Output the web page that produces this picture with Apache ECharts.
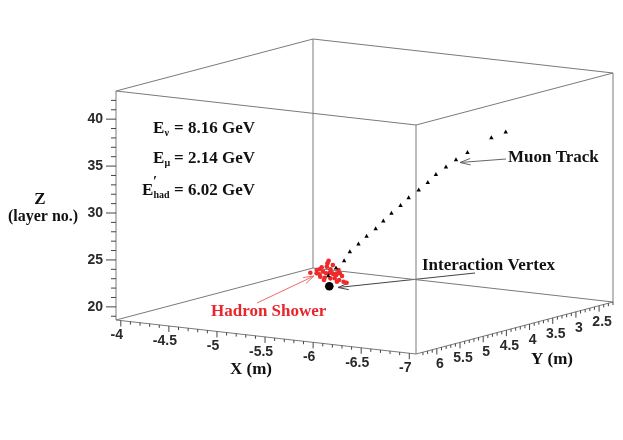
<!DOCTYPE html>
<html>
<head>
<meta charset="utf-8">
<script src="https://cdn.jsdelivr.net/npm/echarts@6/dist/echarts.min.js"></script>
<style>
  html, body { margin: 0; padding: 0; background: #fff; }
  #chart { width: 623px; height: 440px; }
</style>
</head>
<body>
<div id="chart"></div>
<script>
// axis ranges (value at the front-left corner first)
const xRange = [-3.95, -7.07];
const yRange = [6.45, 2.2];
const zRange = [18.6, 43.0];

const xTickValues = [-4, -4.5, -5, -5.5, -6, -6.5, -7];
const xTickLabels = ['-4', '-4.5', '-5', '-5.5', '-6', '-6.5', '-7'];
const yTickValues = [6, 5.5, 5, 4.5, 4, 3.5, 3, 2.5];
const yTickLabels = ['6', '5.5', '5', '4.5', '4', '3.5', '3', '2.5'];
const zTickValues = [20, 25, 30, 35, 40];
const zTickLabels = ['20', '25', '30', '35', '40'];

// muon track hits
const trackX = [-5.44, -5.51, -5.58, -5.63, -5.71, -5.78, -5.86, -5.93, -6.00, -6.08,
                -6.15, -6.24, -6.32, -6.39, -6.48, -6.57, -6.67, -6.88, -7.01];
const trackY = [4.96, 4.94, 4.91, 4.89, 4.87, 4.84, 4.81, 4.79, 4.76, 4.73,
                4.70, 4.67, 4.64, 4.61, 4.58, 4.55, 4.51, 4.43, 4.39];
const trackZ = [23.1, 24.0, 24.8, 25.8, 26.7, 27.55, 28.4, 29.3, 30.15, 31.05,
                31.9, 32.8, 33.65, 34.55, 35.4, 36.25, 37.1, 38.8, 39.5];

// hadron shower hits
const showerX = [-5.52, -5.67, -5.58, -5.39, -5.41, -5.51, -5.43, -5.43, -5.59, -5.52,
                 -5.20, -5.26, -5.31, -5.33, -5.34, -5.40, -5.45, -5.43, -5.52, -5.38,
                 -5.44, -5.50, -5.53, -5.61, -5.43, -5.48, -5.38, -5.24, -5.36, -5.41];
const showerY = [5.12, 5.34, 5.27, 5.00, 4.93, 5.06, 5.19, 5.13, 5.05, 5.24,
                 4.85, 4.84, 4.88, 4.78, 4.72, 4.77, 4.81, 4.69, 4.83, 5.01,
                 5.04, 5.04, 5.01, 5.08, 4.61, 4.65, 4.65, 4.64, 4.72, 4.72];
const showerZ = [25, 25, 25, 24, 24, 24, 24, 24, 24, 24,
                 23, 23, 23, 23, 23, 23, 23, 23, 23, 23,
                 23, 23, 23, 23, 22, 22, 22, 22, 23, 23];

// interaction vertex
const vertex = [-5.45, 4.96, 22];

// projection of the box on the page
const ORIGIN = [116, 320];
const EX = [300, 34];
const EY = [197, -52];
const HZ = 229;

function proj(x, y, z) {
  const u = (x - xRange[0]) / (xRange[1] - xRange[0]);
  const v = (y - yRange[0]) / (yRange[1] - yRange[0]);
  const w = (z - zRange[0]) / (zRange[1] - zRange[0]);
  return [ORIGIN[0] + u * EX[0] + v * EY[0], ORIGIN[1] + u * EX[1] + v * EY[1] - w * HZ];
}

// box edges: every pair of corners that differ in one coordinate
const corners = [];
xRange.forEach(x => yRange.forEach(y => zRange.forEach(z => corners.push([x, y, z]))));
const boxEdges = [];
for (let i = 0; i < corners.length; i++) {
  for (let j = i + 1; j < corners.length; j++) {
    let diff = 0;
    for (let k = 0; k < 3; k++) if (corners[i][k] !== corners[j][k]) diff++;
    if (diff === 1) boxEdges.push(corners[i].concat(corners[j]));
  }
}

// ticks: [axis, value, major]
const ticks = [];
for (let i = 0; i <= 30; i++) ticks.push([0, -4 - i * 0.1, i % 5 === 0 ? 1 : 0]);
for (let i = 0; i <= 41; i++) ticks.push([1, 6.3 - i * 0.1, (i + 2) % 5 === 0 ? 1 : 0]);
for (let z = 19; z <= 42; z++) ticks.push([2, z, z % 5 === 0 ? 1 : 0]);

function tickBase(axis, val) {
  if (axis === 0) return proj(val, yRange[0], zRange[0]);
  if (axis === 1) return proj(xRange[1], val, zRange[0]);
  return proj(xRange[0], yRange[0], val);
}

const tickLabelData = [];
xTickValues.forEach((v, i) => tickLabelData.push([0, v, i]));
yTickValues.forEach((v, i) => tickLabelData.push([1, v, i]));
zTickValues.forEach((v, i) => tickLabelData.push([2, v, i]));
const labelSets = [xTickLabels, yTickLabels, zTickLabels];

const trackData = trackX.map((x, i) => [x, trackY[i], trackZ[i]]);
const showerData = showerX.map((x, i) => [x, showerY[i], showerZ[i]]);

const SERIF = '"Liberation Serif", "DejaVu Serif", serif';
const SANS = '"Liberation Sans", Arial, sans-serif';

function arrow(x1, y1, x2, y2, color) {
  const a = Math.atan2(y2 - y1, x2 - x1);
  const len = 11, spread = 0.3;
  return [
    { type: 'line', shape: { x1: x1, y1: y1, x2: x2, y2: y2 }, style: { stroke: color, lineWidth: 1 } },
    { type: 'polyline', shape: { points: [
        [x2 - len * Math.cos(a - spread), y2 - len * Math.sin(a - spread)],
        [x2, y2],
        [x2 - len * Math.cos(a + spread), y2 - len * Math.sin(a + spread)]] },
      style: { stroke: color, lineWidth: 1, fill: null } }
  ];
}

function energyLine(y, sub, value, withPrime, eX) {
  const items = [
    { type: 'text', x: eX, y: y, style: { text: 'E', font: 'bold 17px ' + SERIF, fill: '#111', verticalAlign: 'middle' } },
    { type: 'text', x: eX + 11.5, y: y + 5, style: { text: sub, font: 'bold 10px ' + SERIF, fill: '#111', verticalAlign: 'middle' } },
    { type: 'text', x: 255, y: y, style: { text: value, font: 'bold 17px ' + SERIF, fill: '#111', align: 'right', verticalAlign: 'middle' } }
  ];
  if (withPrime) {
    items.push({ type: 'text', x: eX + 11, y: y - 8, style: { text: '\u2032', font: 'bold 15px ' + SERIF, fill: '#111', verticalAlign: 'middle' } });
  }
  return items;
}

const chart = echarts.init(document.getElementById('chart'));

const option = {
  backgroundColor: '#fff',
  animation: false,
  series: [
    {
      type: 'custom',
      coordinateSystem: 'none',
      silent: true,
      data: boxEdges,
      renderItem: function (params, api) {
        const p0 = proj(api.value(0), api.value(1), api.value(2));
        const p1 = proj(api.value(3), api.value(4), api.value(5));
        return { type: 'line', shape: { x1: p0[0], y1: p0[1], x2: p1[0], y2: p1[1] },
                 style: { stroke: '#7a7a7a', lineWidth: 1 } };
      }
    },
    {
      type: 'custom',
      coordinateSystem: 'none',
      silent: true,
      data: ticks,
      renderItem: function (params, api) {
        const axis = api.value(0), major = api.value(2);
        const p = tickBase(axis, api.value(1));
        if (axis === 2) {
          const l = major ? 10 : 5;
          return { type: 'line', shape: { x1: p[0] - l, y1: p[1], x2: p[0], y2: p[1] },
                   style: { stroke: '#444', lineWidth: 1 } };
        }
        const l = major ? 6 : 3;
        return { type: 'line', shape: { x1: p[0], y1: p[1], x2: p[0], y2: p[1] + l },
                 style: { stroke: '#444', lineWidth: 1 } };
      }
    },
    {
      type: 'custom',
      coordinateSystem: 'none',
      silent: true,
      data: tickLabelData,
      renderItem: function (params, api) {
        const axis = api.value(0);
        const p = tickBase(axis, api.value(1));
        const text = labelSets[axis][api.value(2)];
        let x = p[0], y = p[1], align = 'center';
        if (axis === 0) { x -= 4; y += 15; }
        else if (axis === 1) { x += 3; y += 16; }
        else { x -= 13; align = 'right'; }
        return { type: 'text', x: x, y: y,
                 style: { text: text, font: 'bold 14px ' + SANS, fill: '#2a2a2a', align: align, verticalAlign: 'middle' } };
      }
    },
    {
      type: 'custom',
      coordinateSystem: 'none',
      silent: true,
      data: showerData,
      renderItem: function (params, api) {
        const p = proj(api.value(0), api.value(1), api.value(2));
        return { type: 'circle', shape: { cx: p[0], cy: p[1], r: 2.3 }, style: { fill: '#ee2a2a' } };
      }
    },
    {
      type: 'custom',
      coordinateSystem: 'none',
      silent: true,
      data: trackData,
      renderItem: function (params, api) {
        const p = proj(api.value(0), api.value(1), api.value(2));
        return { type: 'polygon', shape: { points: [[p[0], p[1] - 2.4], [p[0] - 2.2, p[1] + 1.6], [p[0] + 2.2, p[1] + 1.6]] },
                 style: { fill: '#000' } };
      }
    },
    {
      type: 'custom',
      coordinateSystem: 'none',
      silent: true,
      data: [vertex],
      renderItem: function (params, api) {
        const p = proj(api.value(0), api.value(1), api.value(2));
        return { type: 'circle', shape: { cx: p[0], cy: p[1], r: 4.3 }, style: { fill: '#000' } };
      }
    }
  ],
  graphic: [
    ...energyLine(128.5, '\u03bd', '= 8.16 GeV', false, 153),
    ...energyLine(158.5, '\u03bc', '= 2.14 GeV', false, 153),
    ...energyLine(190.5, 'had', '= 6.02 GeV', true, 142),
    { type: 'text', x: 508, y: 157.5, style: { text: 'Muon Track', font: 'bold 17px ' + SERIF, fill: '#111', verticalAlign: 'middle' } },
    ...arrow(506, 159, 460, 162.5, '#666'),
    { type: 'text', x: 422, y: 266, style: { text: 'Interaction Vertex', font: 'bold 17px ' + SERIF, fill: '#111', verticalAlign: 'middle' } },
    ...arrow(475, 273, 338, 287.5, '#444'),
    { type: 'text', x: 211, y: 312, style: { text: 'Hadron Shower', font: 'bold 17px ' + SERIF, fill: '#e8252b', verticalAlign: 'middle' } },
    ...arrow(257, 303, 314, 276, '#f06a6a'),
    { type: 'text', x: 251, y: 370, style: { text: 'X (m)', font: 'bold 17px ' + SERIF, fill: '#111', align: 'center', verticalAlign: 'middle' } },
    { type: 'text', x: 552, y: 360, style: { text: 'Y (m)', font: 'bold 17px ' + SERIF, fill: '#111', align: 'center', verticalAlign: 'middle' } },
    { type: 'text', x: 40, y: 200, style: { text: 'Z', font: 'bold 17px ' + SERIF, fill: '#111', align: 'center', verticalAlign: 'middle' } },
    { type: 'text', x: 43, y: 217, style: { text: '(layer no.)', font: 'bold 16px ' + SERIF, fill: '#111', align: 'center', verticalAlign: 'middle' } }
  ]
};

chart.setOption(option);
</script>
</body>
</html>
